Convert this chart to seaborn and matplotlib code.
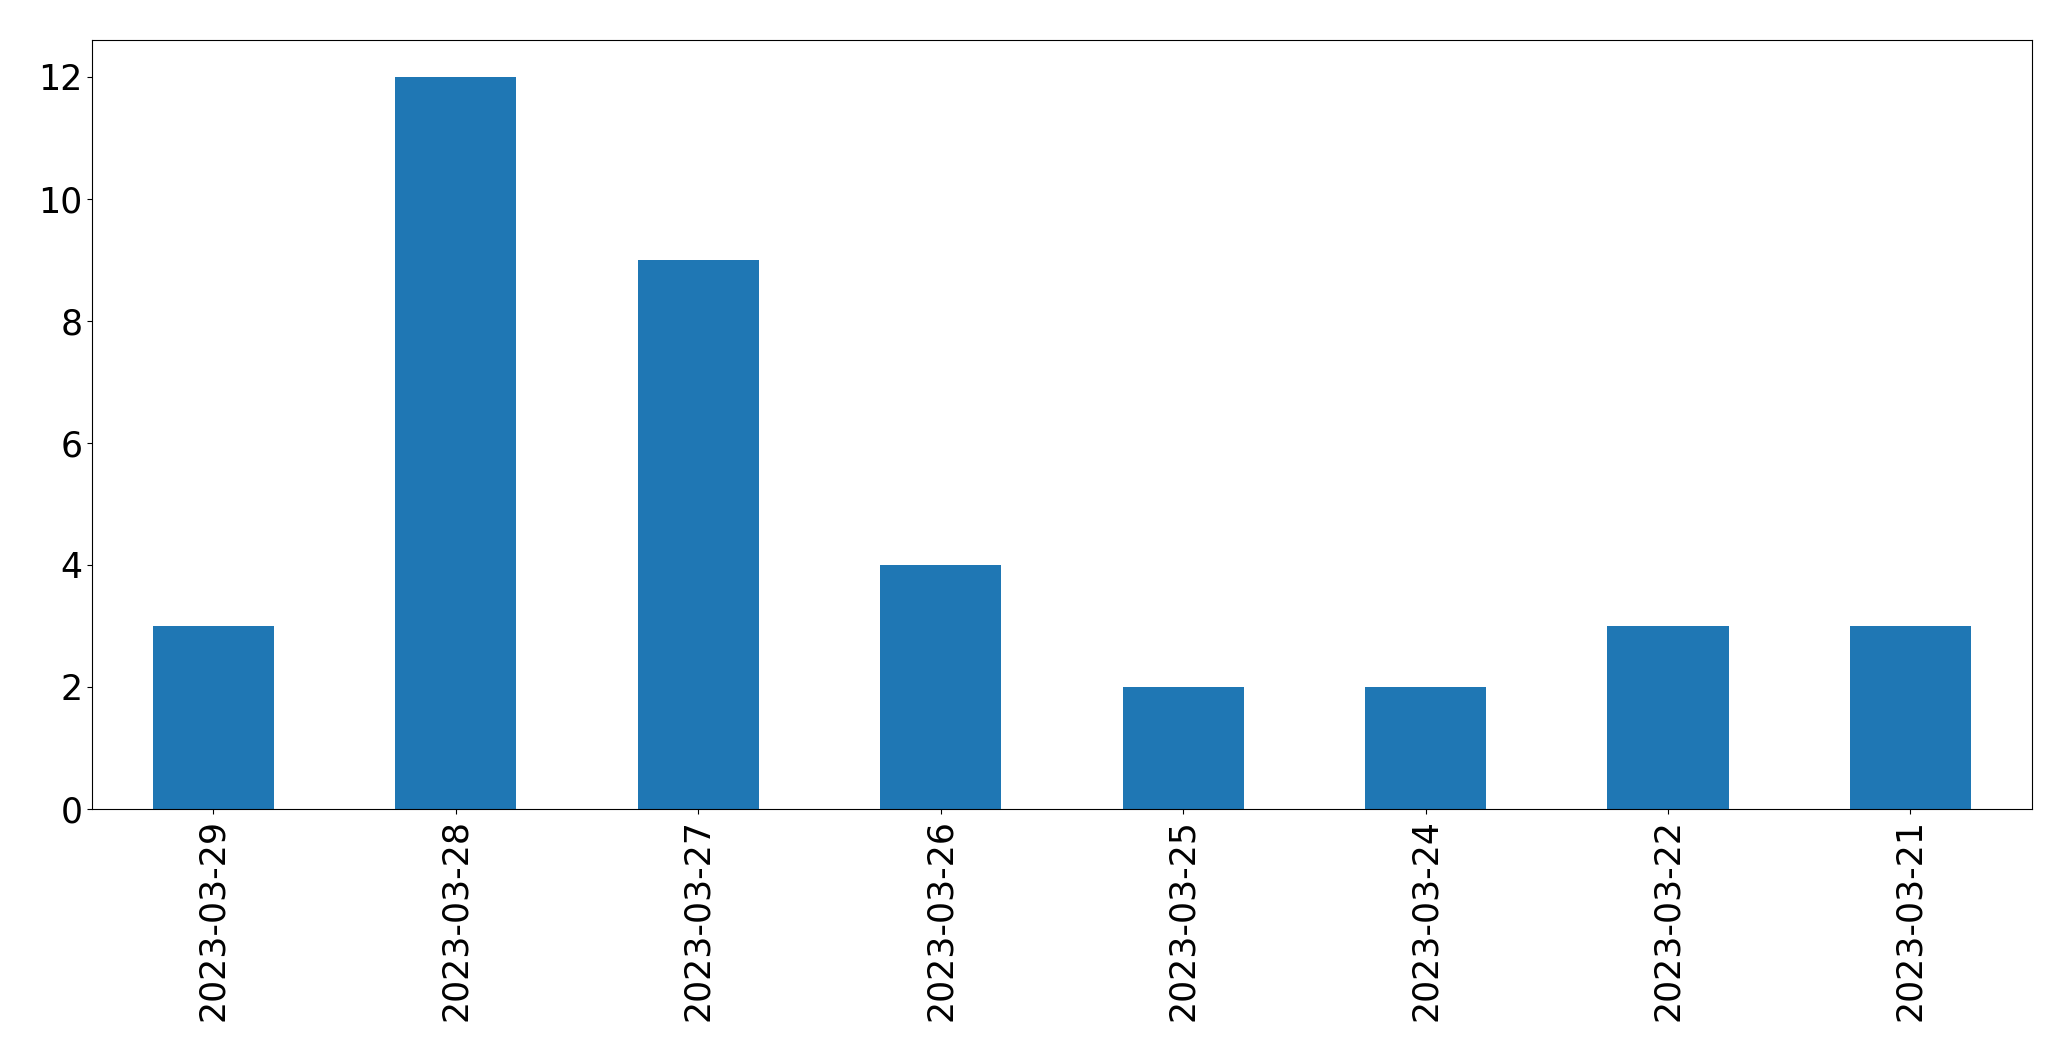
import pandas as pd
import matplotlib
matplotlib.use('Agg')
import matplotlib.pyplot as plt
import seaborn as sns

dates = [
    '2023-03-29', '2023-03-28', '2023-03-27', '2023-03-26',
    '2023-03-25', '2023-03-24', '2023-03-22', '2023-03-21'
]
counts = [3, 12, 9, 4, 2, 2, 3, 3]

df = pd.DataFrame({'date': dates, 'count': counts})

fig = plt.figure(figsize=(20.71, 10.61), dpi=100)
ax = fig.add_axes([0.0445, 0.2375, 0.9365, 0.7245])

sns.barplot(
    x='date',
    y='count',
    data=df,
    color='#1f77b4',
    saturation=1,
    width=0.5,
    linewidth=0,
    ax=ax
)

ax.set_xlim(-0.5, len(dates) - 0.5)
ax.set_ylim(0, 12.6)
ax.set_xlabel('')
ax.set_ylabel('')
ax.tick_params(axis='both', labelsize=25)
plt.xticks(rotation=90)

fig.savefig('out.png', dpi=100)
